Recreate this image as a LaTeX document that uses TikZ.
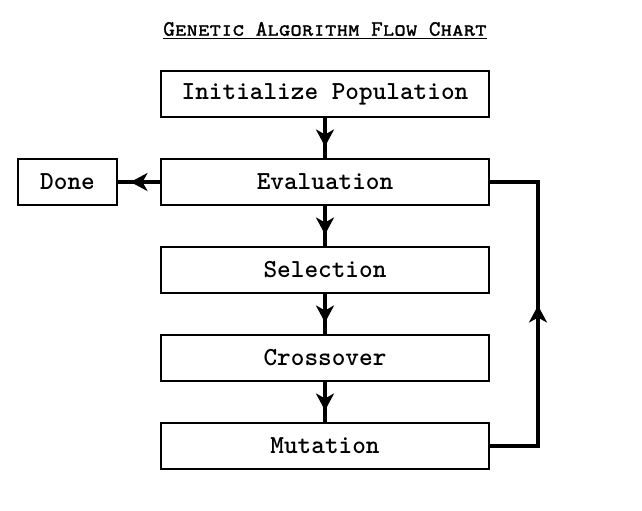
\documentclass[tikz,border=0pt]{standalone}
\usepackage{fontspec}
\usetikzlibrary{positioning,arrows.meta,decorations.markings}
\newfontfamily\titlefont{lmmonocaps10-regular.otf}[FakeBold=1.2]

\begin{document}
\begin{tikzpicture}[x=0.5pt,y=-0.5pt,node distance=20pt,
   stepbox/.style={draw,line width=1pt,minimum width=164pt,minimum height=23pt,inner sep=0pt,
      font=\ttfamily\bfseries\fontsize{13}{15}\selectfont},
   flow/.style={line width=1.6pt,postaction={decorate},
      decoration={markings,mark=at position 0.5 with
         {\arrow[xshift=4.25pt]{Stealth[length=8.5pt,width=9pt,inset=2.5pt]}}}}]
\useasboundingbox (0,0) rectangle (642,510);
\node (title) at (325,31) {\titlefont\fontsize{11}{13}\selectfont\underline{Genetic Algorithm Flow Chart}};
\node[stepbox] (init) at (325,94) {Initialize Population};
\node[stepbox,below=of init] (eval) {Evaluation};
\node[stepbox,below=of eval] (sel) {Selection};
\node[stepbox,below=of sel] (cross) {Crossover};
\node[stepbox,below=of cross] (mut) {Mutation};
\node[stepbox,minimum width=49.5pt,left=21pt of eval] (done) {Done};
\foreach \a/\b in {init/eval,eval/sel,sel/cross,cross/mut,eval/done}
   \draw[flow] (\a) -- (\b);
\draw[flow] (mut.east) -- ++(24pt,0) |- (eval.east);
\end{tikzpicture}
\end{document}
